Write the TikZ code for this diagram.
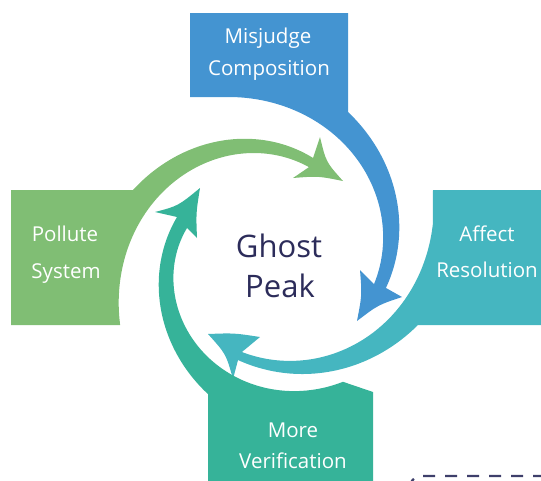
\documentclass[tikz,border=0pt]{standalone}
\usepackage{fontspec}
\setmainfont{Open Sans}
\definecolor{cblue}{HTML}{4494D1}
\definecolor{cteal}{HTML}{45B6C0}
\definecolor{cgreen}{HTML}{80BE74}
\definecolor{cmint}{HTML}{36B399}
\definecolor{cnavy}{HTML}{2C2C5A}
\definecolor{cdash}{HTML}{3E3F6B}
\begin{document}
\begin{tikzpicture}[x=1pt,y=-1pt,
  lbl/.style={text=white, font=\fontsize{20.5}{24}\selectfont, anchor=base, inner sep=0pt},
  core/.style={text=cnavy, font=\fontsize{31}{36}\selectfont, anchor=base, inner sep=0pt},
  sp/.style={smooth, samples=45, variable=\s},
  declare function={
    bo(\t)=112+0.334*\t+0.003645*\t*\t;
    bi(\t)=99.5+0.217*\t+0.002837*\t*\t;
    go(\t)=106+0.416*\t+0.0027*\t*\t;
    gi(\t)=96+0.3054*\t+0.002035*\t*\t;
    to(\t)=109.6+0.103*\t+0.004993*\t*\t;
    ti(\t)=100.7+0.0038*\t*\t;
    mo(\t)=109+0.286*\t+0.00274*\t*\t;
    mi(\t)=95.8+0.3797*\t-0.000413*\t*\t+0.00000596*\t*\t*\t;
  }]
\useasboundingbox (0,0) rectangle (541,480);
\clip (0,0) rectangle (541,480);
\coordinate (c) at (278,258);

% Misjudge Composition (blue)
\fill[cblue] (190,13) -- (348,13) -- (348,112)
  -- plot[sp, domain=0:79.9] ({278+bo(79.9-\s)*cos(\s-64.4)}, {258+bo(79.9-\s)*sin(\s-64.4)})
  -- (402,297) .. controls (378,305) .. (357,321)
  .. controls (362,295) .. (360,270)
  -- plot[sp, domain=0:120.2] ({278+bi(\s)*cos(15.2-\s)}, {258+bi(\s)*sin(15.2-\s)})
  -- (190,97) -- cycle;

% Affect Resolution (teal)
\fill[cteal] (433,190) -- (545,190) -- (545,325) -- (418,325)
  -- plot[sp, domain=0:85.8] ({278+to(85.8-\s)*cos(\s+25.6)}, {258+to(85.8-\s)*sin(\s+25.6)})
  -- (233,379) .. controls (226,354) .. (208,334)
  .. controls (234,333) .. (260,337)
  -- plot[sp, domain=0:123.1] ({278+ti(\s)*cos(111-\s)}, {258+ti(\s)*sin(111-\s)})
  -- cycle;

% Pollute System (green)
\fill[cgreen] (11,190) -- (133,190)
  -- plot[sp, domain=0:84.2] ({278+go(84.2-\s)*cos(\s-154.9)}, {258+go(84.2-\s)*sin(\s-154.9)})
  -- (320,137) .. controls (326,162) .. (343,181)
  .. controls (318,176) .. (293,178)
  -- plot[sp, domain=0:131.8] ({278+gi(\s)*cos(-71.2-\s)}, {258+gi(\s)*sin(-71.2-\s)})
  -- (11,325) -- cycle;

% More Verification (mint)
\fill[cmint] (208,490) -- (208,394)
  -- plot[sp, domain=0:84.9] ({278+mo(84.9-\s)*cos(117.2+\s)}, {258+mo(84.9-\s)*sin(117.2+\s)})
  -- (155,212) .. controls (178,206) .. (200,188)
  .. controls (196,213) .. (197,238)
  -- plot[sp, domain=0:136] ({278+mi(\s)*cos(198.3-\s)}, {258+mi(\s)*sin(198.3-\s)})
  -- (373,392) -- (373,490) -- cycle;

% labels
\node[lbl] (m1) at (268,43) {Misjudge};
\node[lbl] (m2) at (269,75) {Composition};
\node[lbl] (a1) at (487,241) {Affect};
\node[lbl] (a2) at (487,277) {Resolution};
\node[lbl] (p1) at (65,241) {Pollute};
\node[lbl] (p2) at (66,278) {System};
\node[lbl] (v1) at (293,437) {More};
\node[lbl] (v2) at (293,468) {Verification};
\node[core] (g1) at (279,257) {Ghost};
\node[core] (g2) at (280,297) {Peak};

% dashed connector at the bottom right
\coordinate (dA) at (545,476);
\coordinate (dB) at (420,476);
\coordinate (dC) at (408,490);
\draw[cdash, line width=2.2pt, dash pattern=on 12pt off 10pt] (dA) -- (dB) to[out=180,in=70] (dC);
\end{tikzpicture}
\end{document}
